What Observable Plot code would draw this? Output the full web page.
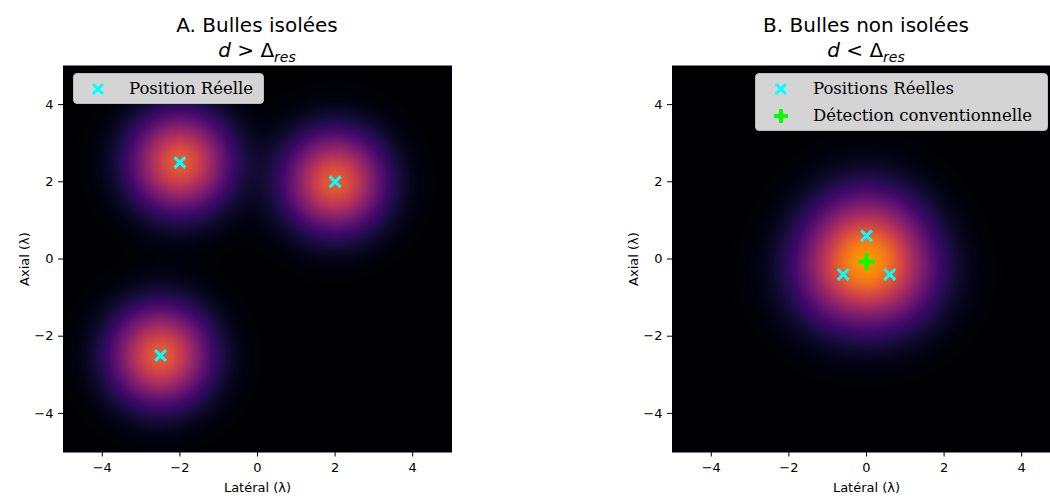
<!DOCTYPE html>
<html>
<head>
<meta charset="utf-8">
<script src="https://cdn.jsdelivr.net/npm/d3@7"></script>
<script src="https://cdn.jsdelivr.net/npm/@observablehq/plot@0.6"></script>
<style>
  body { margin: 0; background: #fff; }
  #fig { position: relative; width: 1050px; height: 498px; overflow: hidden; background: #fff; font-family: "DejaVu Sans", sans-serif; color: #000; }
  .panel { position: absolute; top: 0; width: 461px; height: 498px; }
  .panel svg { position: absolute; left: 0; top: 60px; }
  .title { position: absolute; left: 63px; top: 12.6px; width: 388px; text-align: center; font-size: 20px; line-height: 25px; white-space: nowrap; }
  .title sub { font-size: 14px; vertical-align: -5px; line-height: 0; }
  .legend { position: absolute; background: #d4d4d4; border: 1px solid #bcbcbc; border-radius: 4px; font-family: "DejaVu Serif", serif; font-size: 16.5px; box-sizing: border-box; }
  .legend .row { position: absolute; left: 0; white-space: nowrap; }
  .legend svg { position: absolute; }
</style>
</head>
<body>
<div id="fig"></div>
<script>
// Grid extent and ticks (in wavelengths)
const extent = [-5, 5];
const ticks = [-4, -2, 0, 2, 4];

// Panel A: isolated bubbles
const bubblesA_x = [-2, 2, -2.5];
const bubblesA_y = [2.5, 2, -2.5];

// Panel B: bubbles closer than the resolution limit
const bubblesB_x = [0, -0.6, 0.6];
const bubblesB_y = [0.6, -0.4, -0.4];
const detectionB_x = [0];
const detectionB_y = [-0.07];

// PSF amplitude and width for each panel
const psfAmplitude = [0.63, 0.325];
const psfSigma = [0.88, 1.0];

const titles = [
  ["A. Bulles isolées", "&gt;"],
  ["B. Bulles non isolées", "&lt;"]
];
const xLabel = "Latéral (λ)";
const yLabel = "Axial (λ)";

const toPoints = (xs, ys) => xs.map((x, i) => ({x, y: ys[i]}));

function panel(bubbles, detections, amp, sigma) {
  const s2 = 2 * sigma * sigma;
  const field = (x, y) => d3.sum(bubbles, b => amp * Math.exp(-((x - b.x) ** 2 + (y - b.y) ** 2) / s2));
  return Plot.plot({
    width: 461,
    height: 438,
    marginLeft: 63,
    marginRight: 10,
    marginTop: 5.5,
    marginBottom: 46.5,
    style: {fontFamily: "DejaVu Sans", fontSize: "13px", color: "#000", background: "transparent", overflow: "visible"},
    x: {domain: extent},
    y: {domain: extent},
    color: {type: "linear", scheme: "inferno", domain: [0, 1]},
    marks: [
      Plot.raster({fill: field, x1: extent[0], x2: extent[1], y1: extent[0], y2: extent[1], pixelSize: 1}),
      Plot.frame({stroke: "#000", strokeWidth: 1}),
      Plot.axisX({ticks, tickSize: 5, tickPadding: 6, fontSize: 13, label: xLabel, labelAnchor: "center", labelArrow: "none", labelOffset: 40}),
      Plot.axisY({ticks, tickSize: 5, tickPadding: 5, fontSize: 13, label: yLabel, labelAnchor: "center", labelArrow: "none", labelOffset: 44}),
      Plot.dot(bubbles, {x: "x", y: "y", symbol: "times", r: 5, stroke: "cyan", strokeWidth: 3}),
      ...(detections ? [Plot.dot(detections, {x: "x", y: "y", symbol: "plus", r: 5.5, stroke: "lime", strokeWidth: 4})] : [])
    ]
  });
}

function markerSvg(kind) {
  const ns = "http://www.w3.org/2000/svg";
  const svg = document.createElementNS(ns, "svg");
  svg.setAttribute("width", 20);
  svg.setAttribute("height", 20);
  const p = document.createElementNS(ns, "path");
  if (kind === "times") {
    p.setAttribute("d", "M5,5L15,15M15,5L5,15");
    p.setAttribute("stroke", "cyan");
    p.setAttribute("stroke-width", 3);
  } else {
    p.setAttribute("d", "M10,3V17M3,10H17");
    p.setAttribute("stroke", "lime");
    p.setAttribute("stroke-width", 4);
  }
  p.setAttribute("fill", "none");
  svg.appendChild(p);
  return svg;
}

function legend(box, rows) {
  const div = document.createElement("div");
  div.className = "legend";
  Object.assign(div.style, {left: box[0] + "px", top: box[1] + "px", width: box[2] + "px", height: box[3] + "px"});
  rows.forEach(([kind, text, cy]) => {
    const m = markerSvg(kind);
    m.style.left = (box[4] - 10) + "px";
    m.style.top = (cy - 10) + "px";
    div.appendChild(m);
    const t = document.createElement("div");
    t.className = "row";
    t.textContent = text;
    t.style.left = box[5] + "px";
    t.style.top = (cy - 10.5) + "px";
    t.style.lineHeight = "20px";
    div.appendChild(t);
  });
  return div;
}

const fig = document.getElementById("fig");
const panels = [
  {left: 0, bubbles: toPoints(bubblesA_x, bubblesA_y), detections: null},
  {left: 609, bubbles: toPoints(bubblesB_x, bubblesB_y), detections: toPoints(detectionB_x, detectionB_y)}
];

panels.forEach((p, i) => {
  const div = document.createElement("div");
  div.className = "panel";
  div.style.left = p.left + "px";
  const title = document.createElement("div");
  title.className = "title";
  title.innerHTML = `${titles[i][0]}<br><i>d</i> ${titles[i][1]} Δ<sub><i>res</i></sub>`;
  div.appendChild(title);
  div.appendChild(panel(p.bubbles, p.detections, psfAmplitude[i], psfSigma[i]));
  fig.appendChild(div);
});

// Legends
fig.appendChild(legend([73, 73, 191, 31, 24, 55], [["times", "Position Réelle", 15]]));
fig.appendChild(legend([755, 73, 293, 58, 25, 57], [["times", "Positions Réelles", 15], ["plus", "Détection conventionnelle", 42]]));
</script>
</body>
</html>
